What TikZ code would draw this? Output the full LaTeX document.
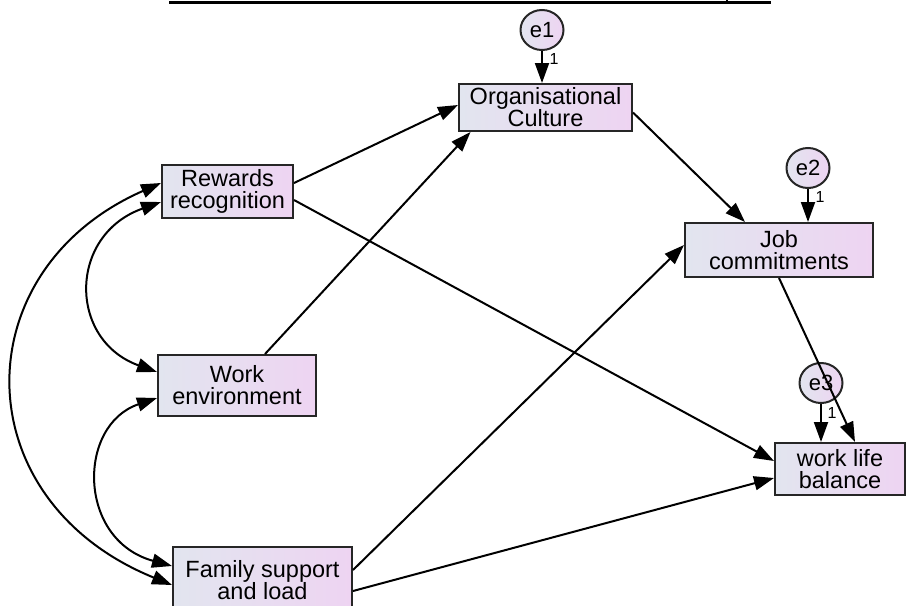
\documentclass[tikz,border=0pt]{standalone}
\usepackage{fontspec}
\setmainfont{Liberation Sans}
\usetikzlibrary{arrows.meta, shapes.geometric}
\definecolor{boxLeft}{HTML}{E2E5EF}
\definecolor{boxRight}{HTML}{EED4F2}
\definecolor{boxEdge}{HTML}{262626}

\begin{document}
\begin{tikzpicture}[
  x=1pt, y=-1pt,
  obsbox/.style={rectangle, draw=boxEdge, line width=2pt, left color=boxLeft, right color=boxRight, align=center, inner sep=0pt, font=\fontsize{23.5}{22}\selectfont},
  errnode/.style={ellipse, draw=boxEdge, line width=2pt, left color=boxLeft, right color=boxRight, minimum width=43pt, minimum height=40pt, inner sep=0pt, font=\fontsize{22}{22}\selectfont},
  weight/.style={inner sep=0pt, font=\fontsize{16}{16}\selectfont},
  arrow/.style={-{Triangle[length=20pt, width=14pt]}, line width=2pt},
  covar/.style={{Triangle[length=20pt, width=14pt]}-{Triangle[length=20pt, width=14pt]}, line width=2pt},
]

\useasboundingbox (0,0) rectangle (907,605);
\clip (0,0) rectangle (907,605);

% Table border left above the diagram
\draw[line width=3pt] (169,2) -- (771,2);
\draw[line width=2pt] (727,0) -- (727,2);

% Exogenous variables
\node[obsbox, minimum width=131pt, minimum height=53pt] (rew) at (227.5,191.5) {Rewards\\recognition};
\node[obsbox, minimum width=158pt, minimum height=61pt] (work) at (237,385.5) {Work\\environment};
\node[obsbox, minimum width=179pt, minimum height=66pt] (fam) at (262.5,580) {Family support\\and load};

% Endogenous variables
\node[obsbox, minimum width=173pt, minimum height=47pt] (org) at (545.5,107.5) {Organisational\\Culture};
\node[obsbox, minimum width=188pt, minimum height=54pt] (job) at (779,250) {Job\\commitments};
\node[obsbox, minimum width=130pt, minimum height=52pt] (wlb) at (840,469) {work life\\balance};

% Error terms
\node[errnode] (e1) at (542,30) {e1};
\node[errnode] (e2) at (808,168) {e2};
\node[errnode] (e3) at (821,383) {e3};

\draw[arrow] (e1) -- (e1 |- org.north);
\draw[arrow] (e2) -- (e2 |- job.north);
\draw[arrow] (e3) -- (e3 |- wlb.north);
\node[weight] (w1) at (554,59) {1};
\node[weight] (w2) at (820,197) {1};
\node[weight] (w3) at (832,413) {1};

% Paths
\draw[arrow] ([yshift=8.5pt]rew.east) -- ([yshift=2.5pt]org.west);
\draw[arrow] ([yshift=-8.5pt]rew.east) -- ([yshift=8pt]wlb.west);
\draw[arrow] ([xshift=28pt]work.north) -- ([xshift=-75pt]org.south);
\draw[arrow] ([yshift=-5pt]org.east) -- ([xshift=-34pt]job.north);
\draw[arrow] (job.south) -- ([xshift=15pt]wlb.north);
\draw[arrow] ([yshift=10pt]fam.east) -- ([yshift=5pt]job.west);
\draw[arrow] ([yshift=-11pt]fam.east) -- ([yshift=-9pt]wlb.west);

% Covariances
\draw[covar] ([yshift=8.5pt]rew.west) .. controls +(-198,87) and +(-209,-85) .. ([yshift=-5pt]fam.west);
\draw[covar] ([yshift=-10.5pt]rew.west) .. controls +(-93,33) and +(-89,-32) .. ([yshift=13.5pt]work.west);
\draw[covar] ([yshift=-12.5pt]work.west) .. controls +(-80,27) and +(-95,-26) .. ([yshift=14pt]fam.west);

\end{tikzpicture}
\end{document}
